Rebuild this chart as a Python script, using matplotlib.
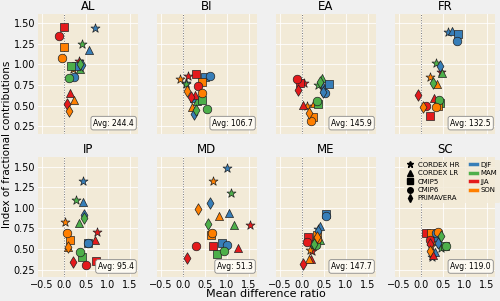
import matplotlib
matplotlib.use('Agg')
import matplotlib.pyplot as plt
from matplotlib.lines import Line2D

# order in every array: 5 model groups x 4 seasons (DJF, MAM, JJA, SON)
models = ["CORDEX HR", "CORDEX LR", "CMIP5", "CMIP6", "PRIMAVERA"]
markers = ["*", "^", "s", "o", "d"]
seasons = ["DJF", "MAM", "JJA", "SON"]
season_colors = ["#377eb8", "#4daf4a", "#e41a1c", "#ff7f00"]

regions = ["AL", "BI", "EA", "FR", "IP", "MD", "ME", "SC"]
avg_values = [244.4, 106.7, 145.9, 132.5, 95.4, 51.3, 147.7, 119.0]

al_x = [0.71, 0.41, 0.35, 0.21, 0.57, 0.38, 0.14, 0.23, 0.28, 0.17, 0.00, 0.00,
        0.24, 0.13, -0.10, -0.03, 0.42, 0.36, 0.08, 0.13]
al_y = [1.44, 1.25, 1.04, 0.94, 1.18, 0.95, 0.65, 0.57, 0.98, 0.98, 1.45, 1.21,
        0.85, 0.83, 1.34, 1.08, 0.99, 1.00, 0.52, 0.44]

bi_x = [0.07, 0.08, 0.12, -0.07, 0.26, 0.33, 0.28, 0.22, 0.51, 0.44, 0.30, 0.43,
        0.61, 0.55, 0.35, 0.44, 0.26, 0.30, 0.19, 0.09]
bi_y = [0.78, 0.76, 0.86, 0.82, 0.59, 0.56, 0.63, 0.48, 0.85, 0.57, 0.88, 0.79,
        0.86, 0.46, 0.74, 0.65, 0.40, 0.45, 0.60, 0.68]

ea_x = [0.49, 0.37, 0.06, 0.13, 0.51, 0.46, 0.04, 0.28, 0.62, 0.37, -0.03, 0.25,
        0.53, 0.35, -0.11, 0.20, 0.49, 0.42, -0.09, 0.17]
ea_y = [0.74, 0.75, 0.78, 0.50, 0.70, 0.83, 0.51, 0.53, 0.76, 0.52, 0.78, 0.36,
        0.65, 0.56, 0.82, 0.31, 0.67, 0.79, 0.69, 0.41]

fr_x = [0.62, 0.35, 0.45, 0.20, 0.70, 0.48, 0.30, 0.36, 0.85, 0.43, 0.21, 0.40,
        0.81, 0.41, 0.12, 0.34, 0.43, 0.28, -0.06, 0.05]
fr_y = [1.39, 1.02, 0.91, 0.85, 1.41, 0.90, 0.59, 0.76, 1.37, 0.53, 0.37, 0.50,
        1.29, 0.57, 0.50, 0.48, 0.98, 0.78, 0.63, 0.48]

ip_x = [0.43, 0.27, 0.76, 0.03, 0.43, 0.34, 0.70, 0.10, 0.54, 0.42, 0.74, 0.14,
        0.54, 0.37, 0.50, 0.07, 0.45, 0.45, 0.20, 0.10]
ip_y = [1.33, 1.09, 0.71, 0.83, 1.07, 0.82, 0.61, 0.52, 0.57, 0.40, 0.35, 0.61,
        0.57, 0.46, 0.31, 0.69, 0.91, 0.87, 0.34, 0.52]

md_x = [1.00, 1.10, 1.52, 0.69, 1.04, 1.16, 1.25, 0.83, 0.89, 0.78, 0.69, 0.63,
        1.00, 0.93, 0.30, 0.67, 0.62, 0.58, 0.09, 0.35]
md_y = [1.48, 1.18, 0.79, 1.33, 0.94, 0.79, 0.51, 0.90, 0.57, 0.44, 0.53, 0.67,
        0.55, 0.48, 0.54, 0.69, 1.06, 0.80, 0.39, 0.99]

me_x = [0.38, 0.30, 0.24, 0.18, 0.42, 0.41, 0.20, 0.17, 0.55, 0.30, 0.15, 0.35,
        0.55, 0.33, 0.13, 0.35, 0.37, 0.28, 0.04, 0.34]
me_y = [0.74, 0.57, 0.47, 0.49, 0.78, 0.61, 0.38, 0.38, 0.92, 0.56, 0.64, 0.67,
        0.90, 0.55, 0.58, 0.62, 0.72, 0.56, 0.32, 0.64]

sc_x = [0.25, 0.47, 0.27, 0.23, 0.33, 0.33, 0.27, 0.33, 0.38, 0.56, 0.11, 0.23,
        0.35, 0.57, 0.21, 0.40, 0.40, 0.45, 0.21, 0.21]
sc_y = [0.40, 0.51, 0.65, 0.53, 0.46, 0.62, 0.43, 0.61, 0.65, 0.54, 0.69, 0.69,
        0.69, 0.53, 0.61, 0.71, 0.57, 0.66, 0.56, 0.47]

xs = [al_x, bi_x, ea_x, fr_x, ip_x, md_x, me_x, sc_x]
ys = [al_y, bi_y, ea_y, fr_y, ip_y, md_y, me_y, sc_y]

marker_sizes = {"*": 46, "^": 34, "s": 36, "o": 38, "d": 34}

fig, axes = plt.subplots(2, 4, figsize=(5.0, 3.01), dpi=100, sharex=True, sharey=True)
fig.patch.set_facecolor("#f0f0f0")
fig.subplots_adjust(left=0.076, right=0.99, top=0.953, bottom=0.08, wspace=0.19, hspace=0.2)

for k, ax in enumerate(axes.flat):
    ax.set_facecolor("#f2ead7")
    ax.grid(True, color="white", lw=0.8, alpha=0.8)
    ax.set_axisbelow(True)
    for sp in ax.spines.values():
        sp.set_visible(False)
    ax.tick_params(length=0, labelsize=7, pad=2)
    ax.axvline(0, color="#777777", lw=0.7, ls=":", zorder=1)
    for m in range(len(models)):
        for s in range(len(seasons)):
            i = m * 4 + s
            ax.scatter(xs[k][i], ys[k][i], marker=markers[m], s=marker_sizes[markers[m]],
                       color=season_colors[s], edgecolor="#222222", linewidth=0.5, zorder=3)
    ax.set_title(regions[k], fontsize=8.5, pad=3)
    ax.text(0.96, 0.05, f"Avg: {avg_values[k]:.1f}", transform=ax.transAxes,
            ha="right", va="bottom", fontsize=5.5, zorder=5,
            bbox=dict(boxstyle="round,pad=0.3", fc="#fdfaf2", ec="#888888", lw=0.6))

axes[0, 0].set_xlim(-0.58, 1.68)
axes[0, 0].set_ylim(0.16, 1.61)
axes[0, 0].set_xticks([-0.5, 0.0, 0.5, 1.0, 1.5])
axes[0, 0].set_yticks([0.25, 0.5, 0.75, 1.0, 1.25, 1.5])

handles = [Line2D([], [], ls="", marker=mk, color="black", markersize=4 if mk != "*" else 5)
           for mk in markers]
handles += [Line2D([], [], color=c, lw=2.5) for c in season_colors]
labels = models + seasons
axes[1, 3].legend(handles, labels, ncol=2, loc="upper center", fontsize=5,
                  frameon=True, facecolor="#f2ead7", edgecolor="none",
                  handlelength=1.0, handletextpad=0.6, columnspacing=1.5,
                  labelspacing=0.35, borderaxespad=0.3, borderpad=0.3,
                  bbox_to_anchor=(0.57, 1.0))

fig.text(0.532, 0.005, "Mean difference ratio", ha="center", va="bottom", fontsize=8)
fig.text(0.004, 0.52, "Index of fractional contributions", ha="left", va="center",
         rotation=90, fontsize=7.5)

fig.savefig("out.png", dpi=100, facecolor=fig.get_facecolor())
